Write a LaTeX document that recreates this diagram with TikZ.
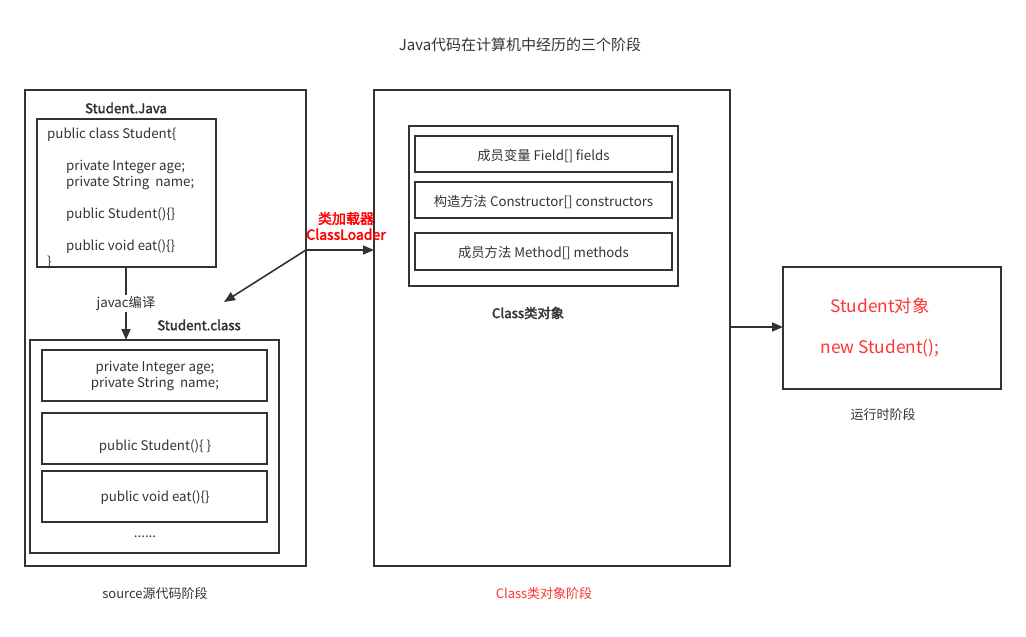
\documentclass[tikz,border=0pt]{standalone}
\usepackage{fontspec}
\setmainfont{Noto Sans CJK SC}[BoldFont={Noto Sans CJK SC}, BoldFeatures={FakeBold=2.5}]
\usetikzlibrary{positioning, arrows.meta}
\definecolor{linec}{HTML}{333333}
\definecolor{textc}{HTML}{333333}
\definecolor{softred}{HTML}{FF3333}
\tikzset{
    stagebox/.style = {draw=linec, line width=1.6pt, inner sep=0, outer sep=0, anchor=north west},
    membox/.style = {stagebox, minimum width=225, minimum height=51},
    fieldbox/.style = {stagebox, minimum width=257, minimum height=36},
    code/.style = {text=textc, font=\fontsize{13.3}{16}\selectfont, inner sep=0},
    caption/.style = {text=textc, font=\fontsize{13}{15}\selectfont, inner sep=0},
    title/.style = {text=textc, font=\bfseries\fontsize{13.3}{15}\selectfont, inner sep=0},
    flow/.style = {draw=linec, line width=1.6pt, -{Triangle[length=11pt, width=9pt]}}
}
\begin{document}
\begin{tikzpicture}[x=1pt, y=-1pt]
    \useasboundingbox (0,0) rectangle (1026,637);
    \node[caption, font=\fontsize{15}{18}\selectfont] (heading) at (520,45) {Java代码在计算机中经历的三个阶段};

    % source stage
    \node[stagebox, minimum width=281, minimum height=476] (source) at (25,90) {};
    \node[title] (javatitle) at (126,108) {Student.Java};
    \node[stagebox, minimum width=179, minimum height=148] (javafile) at (37,119) {};
    \node[code, anchor=north west, align=left] (javacode) at (47,128) {public class Student\{\\[16pt]
        \hspace*{19pt}private Integer age;\\
        \hspace*{19pt}private String\ \ name;\\[16pt]
        \hspace*{19pt}public Student()\{\}\\[16pt]
        \hspace*{19pt}public void eat()\{\}\\
        \}};
    \node[title] (classtitle) at (199,325) {Student.class};
    \node[stagebox, minimum width=249, minimum height=213] (classfile) at (30,340) {};
    \node[membox] (fieldsmem) at (42,350) {};
    \node[membox] (ctormem) at (42,413) {};
    \node[membox] (methodmem) at (42,471) {};
    \node[code, align=center] at (155,376) {private Integer age;\\private String\ \ name;};
    \node[code] at (155,447) {public Student()\{ \}};
    \node[code] at (155,498) {public void eat()\{\}};
    \node[code] (more) at (145,537) {......};
    \node[caption] (sourcelabel) at (155,594) {source源代码阶段};
    \draw[flow] (javafile.south -| 126,0) -- node[code, pos=0.5, fill=white, inner sep=1pt] {javac编译} (classfile.north -| 126,0);

    % class object stage
    \node[stagebox, minimum width=356, minimum height=476] (classstage) at (374,90) {};
    \node[stagebox, minimum width=269, minimum height=160] (classobj) at (409,126) {};
    \node[fieldbox] (fields) at (415,136) {};
    \node[fieldbox] (ctors) at (415,182) {};
    \node[fieldbox, minimum height=37] (methods) at (415,233) {};
    \node[code, yshift=-2pt] at (fields.center) {成员变量 Field[] fields};
    \node[code, yshift=-2pt] at (ctors.center) {构造方法 Constructor[] constructors};
    \node[code, yshift=-2pt] at (methods.center) {成员方法 Method[] methods};
    \node[title] (objtitle) at (528,313) {Class类对象};
    \node[caption, text=softred] (classlabel) at (544,594) {Class类对象阶段};

    % class loader
    \coordinate (loader) at (306,250);
    \coordinate (loadtip) at (224,302);
    \node[font=\bfseries\fontsize{14}{16}\selectfont, text=red, align=center, inner sep=0] (loadlabel) at (346,226) {类加载器\\ClassLoader};
    \draw[flow] (loader) -- (loadtip);
    \draw[flow] (loader) -- (classstage.west |- loader);

    % runtime stage
    \node[stagebox, minimum width=218, minimum height=122] (runtime) at (783,267) {};
    \node[text=softred, font=\fontsize{17.3}{20}\selectfont, inner sep=0] (objname) at (880,306) {Student对象};
    \node[text=softred, font=\fontsize{17.3}{20}\selectfont, inner sep=0] (newobj) at (880,348) {new Student();};
    \node[caption] (runlabel) at (883,415) {运行时阶段};
    \draw[flow] (classstage.east |- 0,327) -- (runtime.west |- 0,327);
\end{tikzpicture}
\end{document}
